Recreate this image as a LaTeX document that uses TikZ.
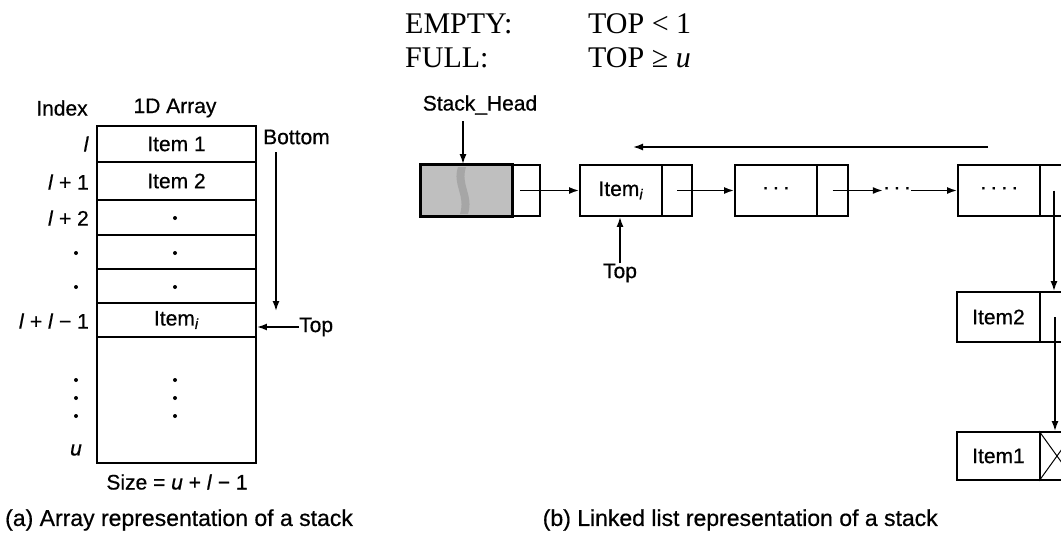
\documentclass[tikz,border=0pt]{standalone}
\usepackage{fontspec}
\setmainfont{Liberation Serif}
\setsansfont{Liberation Sans}[FakeBold=0.6]
\usetikzlibrary{arrows.meta}
\begin{document}
\begin{tikzpicture}[x=1pt,y=-1pt,
  lbl/.style={font=\sffamily\fontsize{21}{24}\selectfont, inner sep=0pt},
  capt/.style={font=\sffamily\fontsize{23}{27}\selectfont, inner sep=0pt},
  cond/.style={font=\fontsize{30}{34}\selectfont, inner sep=0pt, anchor=base west},
  cell/.style={draw, line width=1.9pt, inner sep=0pt, font=\sffamily\fontsize{21}{24}\selectfont},
  acell/.style={cell, minimum width=159pt},
  lcell/.style={cell, minimum height=51pt},
  arr/.style={-{Latex[length=10pt,width=7pt]}, line width=1.6pt},
  dotm/.style={circle, fill, inner sep=0pt, minimum size=4pt},
]
\useasboundingbox (0,0) rectangle (1061,538);
\clip (0,0) rectangle (1061,538);

% ---------- conditions ----------
\node[cond] (e1) at (405,33) {EMPTY:};
\node[cond] (e2) at (588,33) {TOP < 1};
\node[cond] (f1) at (405,67) {FULL:};
\node[cond] (f2) at (588,67) {TOP ≥ \textit{u}};

% ---------- (a) array ----------
\node[lbl] (hidx) at (62,108) {Index};
\node[lbl] (harr) at (175,108) {1D Array};

\node[acell, minimum height=36pt] (r1) at (176.5,144) {Item 1};
\node[acell, minimum height=38pt] (r2) at (176.5,181) {Item 2};
\node[acell, minimum height=35pt] (r3) at (176.5,217.5) {};
\node[acell, minimum height=34pt] (r4) at (176.5,252) {};
\node[acell, minimum height=34pt] (r5) at (176.5,286) {};
\node[acell, minimum height=34pt] (ri) at (176.5,320) {Item\textsubscript{\textit{i}}};
\node[acell, minimum height=126pt] (rr) at (176.5,400) {};
\node[dotm] (c3) at (175,218) {};
\node[dotm] (c4) at (175,253) {};
\node[dotm] (c5) at (175,287) {};
\node[dotm] (vd1) at (175,380) {};
\node[dotm] (vd2) at (175,398) {};
\node[dotm] (vd3) at (175,416) {};

\node[lbl, anchor=east] (x1) at (89,144) {\textit{l}};
\node[lbl, anchor=east] (x2) at (89,182) {\textit{l} + 1};
\node[lbl, anchor=east] (x3) at (89,218) {\textit{l} + 2};
\node[dotm] (x4) at (76,253) {};
\node[dotm] (x5) at (76,287) {};
\node[lbl, anchor=east] (x6) at (89,321) {\textit{l} + \textit{l} − 1};
\node[dotm] (x7) at (76,380) {};
\node[dotm] (x8) at (76,398) {};
\node[dotm] (x9) at (76,416) {};
\node[lbl] (xu) at (76,450) {\textit{u}};

\node[lbl, anchor=west] (bot) at (263,137) {Bottom};
\coordinate (bs) at (276,152);
\coordinate (be) at (276,311);
\draw[arr] (bs) -- (be);

\node[lbl, anchor=west] (topa) at (299,327) {Top};
\draw[arr] (topa.west) -- (topa.west -| ri.east);

\node[lbl] (size) at (177,482) {Size = \textit{u} + \textit{l} − 1};
\node[capt, anchor=west] (capa) at (5,520) {(a) Array representation of a stack};

% ---------- (b) linked list ----------
\node[lbl] (sh) at (480,105) {Stack\_Head};
\node[lcell, minimum width=91pt, fill=gray!50] (hd) at (466.5,190.5) {};
\fill[gray!70] (458,167) .. controls (452,185) and (466,195) .. (460,214) -- (468,214) .. controls (474,195) and (460,185) .. (466,167) -- cycle;
\node[lcell, minimum width=28pt] (hp) at (526,190.5) {};
\draw[line width=1.9pt] (hd.north west) rectangle (hd.south east);
\coordinate (shs) at (463,121);
\draw[arr] (shs) -- (shs |- hd.north);

\node[lcell, minimum width=82pt] (id) at (621,190.5) {Item\textsubscript{\textit{i}}};
\node[lcell, minimum width=30pt] (ip) at (677,190.5) {};

\node[lcell, minimum width=82pt] (b3d) at (776,190.5) {·\,·\,·};
\node[lcell, minimum width=31pt] (b3p) at (832.5,190.5) {};

\node[lbl] (dd) at (897,190.5) {·\,·\,·};

\node[lcell, minimum width=82pt] (b4d) at (999,190.5) {·\,·\,·\,·};
\node[lcell, minimum width=34pt] (b4p) at (1057,190.5) {};

\node[lcell, minimum width=83pt, minimum height=50pt] (i2d) at (998.5,317) {Item2};
\node[lcell, minimum width=34pt, minimum height=50pt] (i2p) at (1057,317) {};

\node[lcell, minimum width=83pt, minimum height=48pt] (i1d) at (998.5,456) {Item1};
\node[lcell, minimum width=34pt, minimum height=48pt] (i1p) at (1057,456) {};
\draw[line width=1pt] (i1p.north west) -- (i1p.south east)
                      (i1p.south west) -- (i1p.north east);

\draw[arr] ([xshift=-6pt]hp.center) -- (id.west);
\draw[arr] (ip.center) -- (b3d.west);
\draw[arr] (b3p.center) -- (dd.west);
\draw[arr] (dd.east) -- (b4d.west);
\draw[arr] ([xshift=-3pt]b4p.center) -- ([xshift=-3pt]b4p.center |- i2p.north);
\draw[arr] ([xshift=-2pt]i2p.center) -- ([xshift=-2pt]i2p.center |- i1p.north);

\node[lbl] (topb) at (620,273) {Top};
\draw[arr] (topb.north) -- (topb.north |- id.south);

\coordinate (rs) at (988,147);
\coordinate (re) at (633,147);
\draw[arr] (rs) -- (re);

\node[capt, anchor=east] (capb) at (938,520) {(b) Linked list representation of a stack};
\end{tikzpicture}
\end{document}
